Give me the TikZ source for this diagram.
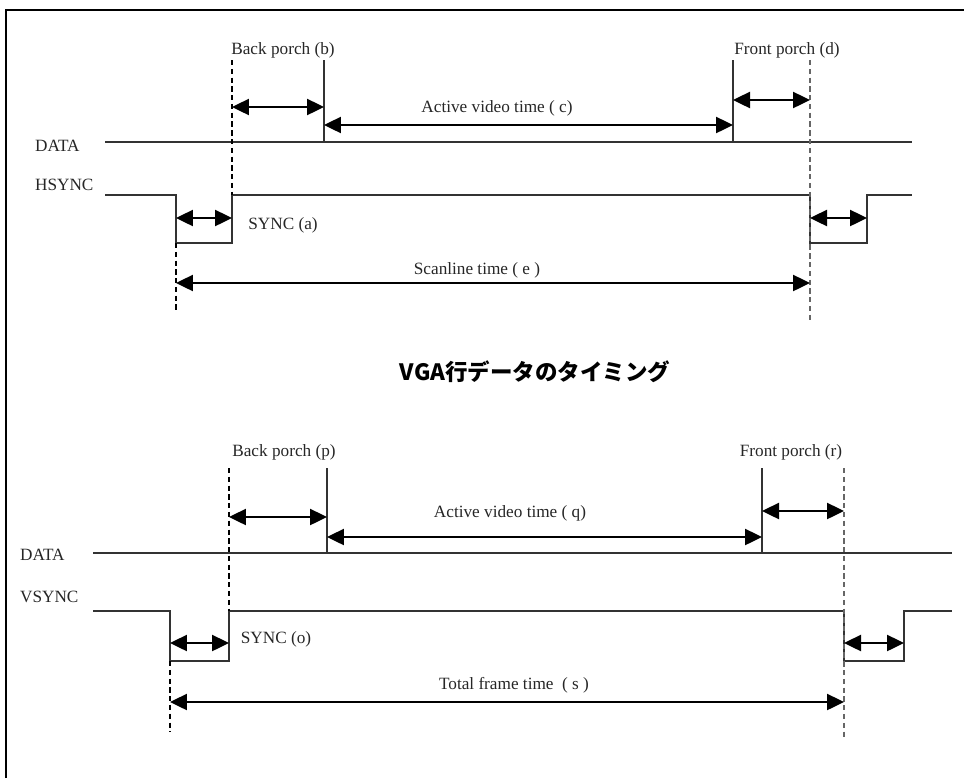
\documentclass[tikz,border=0pt]{standalone}
\usepackage{fontspec}
\setmainfont{Liberation Serif}
\newfontfamily\jpfont{Noto Sans CJK JP}
\usetikzlibrary{arrows.meta,positioning}

\begin{document}
\begin{tikzpicture}[
    x=0.02cm, y=-0.02cm,
    every node/.style={font=\fontsize{9.8}{11}\selectfont, inner sep=1pt, text=black!85},
    sigline/.style={line width=0.6pt, black!80},
    guide/.style={line width=0.6pt, dash pattern=on 3pt off 2pt},
    span/.style={{Triangle[length=3.4mm,width=3.2mm]}-{Triangle[length=3.4mm,width=3.2mm]}, line width=1.4pt},
    caption/.style={font=\jpfont\bfseries\fontsize{12.8}{15}\selectfont, text=black}
]
\useasboundingbox (0,0) rectangle (964,778);
\draw[line width=0.9pt] (6,778) -- (6,10) -- (964,10);

% --- line timing (HSYNC)
\node[anchor=west] (hdata) at (33,146) {DATA};
\node[anchor=west] (hsync) at (33,185) {HSYNC};
\coordinate (hbpTop) at (232,60);
\coordinate (hbpHi) at (232,195);
\coordinate (havTop) at (324,60);
\coordinate (havLow) at (324,142);
\coordinate (hfpTop) at (733,60);
\coordinate (hfpLow) at (733,142);
\coordinate (hendTop) at (810,60);
\coordinate (hendLow) at (810,320);
\coordinate (hsyTop) at (176,243);
\coordinate (hsyLow) at (176,312);
\coordinate (hsyEnd) at (867,243);
\coordinate (hbpY) at (0,107);
\coordinate (hfpY) at (0,100);
\coordinate (havY) at (0,125);
\coordinate (hsyY) at (0,218);
\coordinate (htotY) at (0,283);
\draw[sigline] (105,142) -- (912,142);
\draw[sigline] (105,195) -- (hsyTop |- hbpHi) -- (hsyTop) -- (hbpHi |- hsyTop) -- (hbpHi)
    -- (hendTop |- hbpHi) -- (hendTop |- hsyTop) -- (hsyEnd) -- (hsyEnd |- hbpHi) -- (912,195);
\draw[sigline] (havTop) -- (havLow);
\draw[sigline] (hfpTop) -- (hfpLow);
\draw[guide] (hbpTop) -- (hbpHi);
\draw[guide, black!60] (hendTop) -- (hendLow);
\draw[guide] (hsyTop) -- (hsyLow);
\draw[span] (hbpTop |- hbpY) -- (havTop |- hbpY);
\draw[span] (havTop |- havY) -- (hfpTop |- havY);
\draw[span] (hfpTop |- hfpY) -- (hendTop |- hfpY);
\draw[span] (hsyTop |- hsyY) -- (hbpTop |- hsyY);
\draw[span] (hendTop |- hsyY) -- (hsyEnd |- hsyY);
\draw[span] (hsyTop |- htotY) -- (hendTop |- htotY);
\node (hbpLbl) at (283,50) {Back porch (b)};
\node (hfpLbl) at (787,50) {Front porch (d)};
\node (havLbl) at (497,108) {Active video time ( c)};
\node (hsyLbl) at (283,225) {SYNC (a)};
\node (htotLbl) at (477,270) {Scanline time ( e )};

\node[caption] (title) at (535,372) {VGA行データのタイミング};

% --- frame timing (VSYNC)
\node[anchor=west] (vdata) at (18,555) {DATA};
\node[anchor=west] (vsync) at (18,597) {VSYNC};
\coordinate (vbpTop) at (229,468);
\coordinate (vbpHi) at (229,611);
\coordinate (vavTop) at (327,468);
\coordinate (vavLow) at (327,553);
\coordinate (vfpTop) at (762,468);
\coordinate (vfpLow) at (762,553);
\coordinate (vendTop) at (844,468);
\coordinate (vendLow) at (844,740);
\coordinate (vsyTop) at (170,661);
\coordinate (vsyLow) at (170,732);
\coordinate (vsyEnd) at (904,661);
\coordinate (vbpY) at (0,517);
\coordinate (vfpY) at (0,511);
\coordinate (vavY) at (0,537);
\coordinate (vsyY) at (0,643);
\coordinate (vtotY) at (0,702);
\draw[sigline] (93,553) -- (952,553);
\draw[sigline] (93,611) -- (vsyTop |- vbpHi) -- (vsyTop) -- (vbpHi |- vsyTop) -- (vbpHi)
    -- (vendTop |- vbpHi) -- (vendTop |- vsyTop) -- (vsyEnd) -- (vsyEnd |- vbpHi) -- (952,611);
\draw[sigline] (vavTop) -- (vavLow);
\draw[sigline] (vfpTop) -- (vfpLow);
\draw[guide] (vbpTop) -- (vbpHi);
\draw[guide, black!60] (vendTop) -- (vendLow);
\draw[guide] (vsyTop) -- (vsyLow);
\draw[span] (vbpTop |- vbpY) -- (vavTop |- vbpY);
\draw[span] (vavTop |- vavY) -- (vfpTop |- vavY);
\draw[span] (vfpTop |- vfpY) -- (vendTop |- vfpY);
\draw[span] (vsyTop |- vsyY) -- (vbpTop |- vsyY);
\draw[span] (vendTop |- vsyY) -- (vsyEnd |- vsyY);
\draw[span] (vsyTop |- vtotY) -- (vendTop |- vtotY);
\node (vbpLbl) at (284,452) {Back porch (p)};
\node (vfpLbl) at (791,452) {Front porch (r)};
\node (vavLbl) at (510,513) {Active video time ( q)};
\node (vsyLbl) at (276,639) {SYNC (o)};
\node (vtotLbl) at (514,685) {Total frame time \ ( s )};
\end{tikzpicture}
\end{document}
